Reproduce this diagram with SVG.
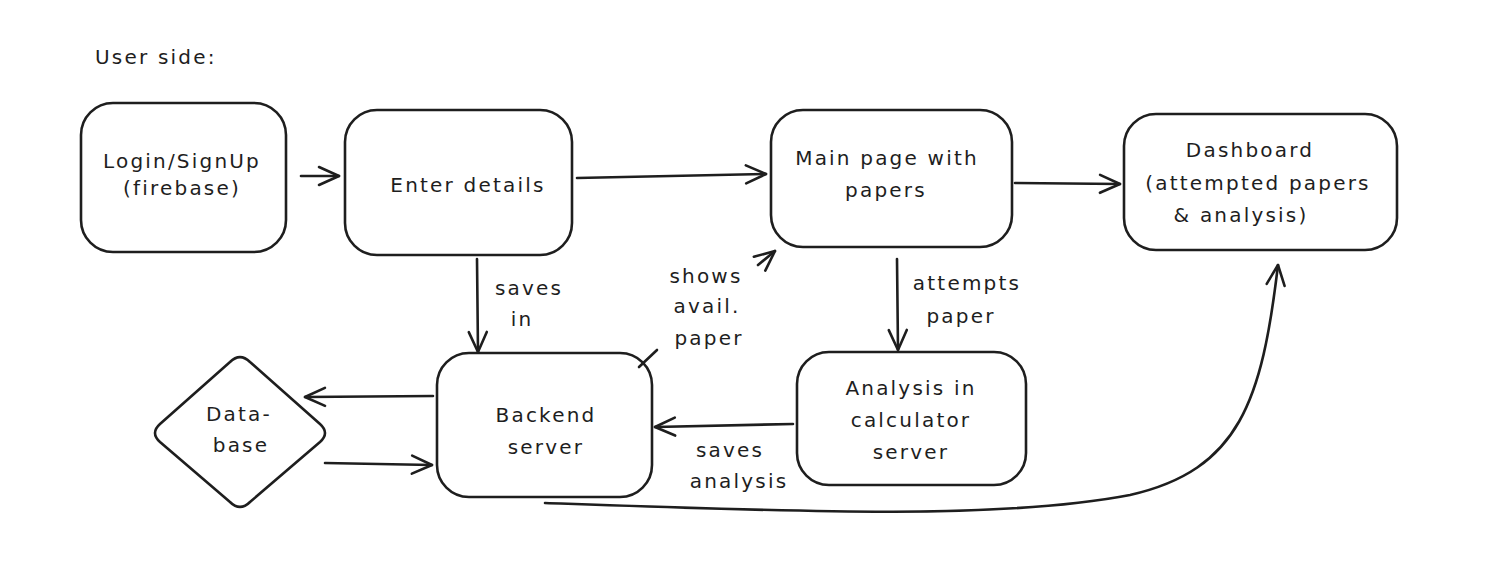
<svg xmlns="http://www.w3.org/2000/svg" width="1491" height="583" viewBox="0 0 1491 583">
<style>
.box{fill:#fff;stroke:#1e1e1e;stroke-width:2.6;}
.ln{fill:none;stroke:#1e1e1e;stroke-width:2.6;stroke-linecap:round;}
text{font-family:"DejaVu Sans","Liberation Sans",sans-serif;font-size:20px;letter-spacing:2.2px;fill:#1e1e1e;text-anchor:middle;}
</style>
<defs>
<marker id="ah" markerUnits="userSpaceOnUse" viewBox="-26 -15 30 30" markerWidth="30" markerHeight="30" refX="0" refY="0" orient="auto">
<path d="M -20 -9 L 0 0 L -20 9" fill="none" stroke="#1e1e1e" stroke-width="2.6" stroke-linecap="round" stroke-linejoin="round"/>
</marker>
</defs>
<rect width="1491" height="583" fill="#fff"/>
<text x="95" y="64" style="text-anchor:start">User side:</text>

<g id="login"><rect class="box" x="81" y="103" width="205" height="149" rx="32"/><text x="182" y="168">Login/SignUp</text><text x="182" y="195">(firebase)</text></g>
<g id="enter"><rect class="box" x="345" y="110" width="227" height="145" rx="32"/><text x="468" y="192">Enter details</text></g>
<g id="main"><rect class="box" x="771" y="110" width="241" height="137" rx="32"/><text x="887" y="165">Main page with</text><text x="886" y="197">papers</text></g>
<g id="dashboard"><rect class="box" x="1124" y="114" width="273" height="136" rx="32"/><text x="1250" y="157">Dashboard</text><text x="1258" y="190">(attempted papers</text><text x="1241" y="222">&amp; analysis)</text></g>
<g id="backend"><rect class="box" x="437" y="353" width="215" height="144" rx="32"/><text x="546" y="422">Backend</text><text x="546" y="454">server</text></g>
<g id="analysis"><rect class="box" x="797" y="352" width="229" height="133" rx="32"/><text x="911" y="395">Analysis in</text><text x="911" y="427">calculator</text><text x="911" y="459">server</text></g>
<g id="database"><path class="box" d="M 230 362 Q 240 352 250 362 L 320 424 Q 330 433 320 442 L 250 502 Q 240 512 230 502 L 160 442 Q 150 433 160 424 Z" stroke-linejoin="round"/><text x="239" y="421">Data-</text><text x="241" y="452">base</text></g>

<g id="connectors">
<path class="ln" d="M 301 176 L 339 176" marker-end="url(#ah)"/>
<path class="ln" d="M 577 178 L 766 174" marker-end="url(#ah)"/>
<path class="ln" d="M 1015 183 L 1120 184" marker-end="url(#ah)"/>
<path class="ln" d="M 477 259 L 478 352" marker-end="url(#ah)"/>
<path class="ln" d="M 639 367 L 657 350"/>
<path class="ln" d="M 758 265 L 775 251" marker-end="url(#ah)"/>
<path class="ln" d="M 897 259 L 898 350" marker-end="url(#ah)"/>
<path class="ln" d="M 793 424 L 655 427" marker-end="url(#ah)"/>
<path class="ln" d="M 433 396 L 305 397" marker-end="url(#ah)"/>
<path class="ln" d="M 325 463 L 432 465" marker-end="url(#ah)"/>
<path class="ln" d="M 545 503 C 800 512 1000 520 1130 495 C 1240 470 1262 400 1278 265" marker-end="url(#ah)"/>
<text x="529" y="295">saves</text><text x="522" y="326">in</text>
<text x="706" y="283">shows</text><text x="707" y="313">avail.</text><text x="709" y="345">paper</text>
<text x="967" y="290">attempts</text><text x="961" y="323">paper</text>
<text x="730" y="457">saves</text><text x="739" y="488">analysis</text>
</g>
</svg>
